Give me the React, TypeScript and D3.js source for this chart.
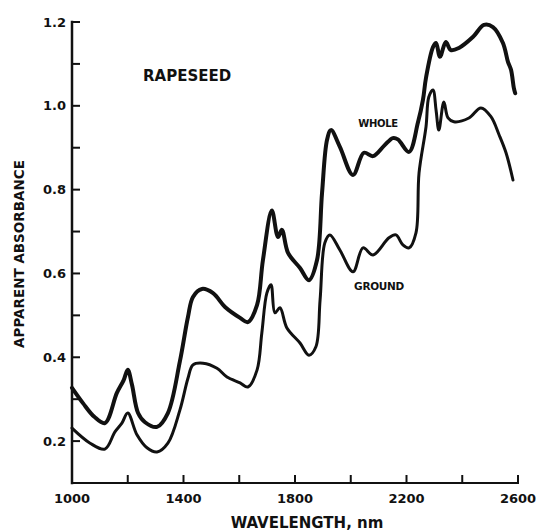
import React from "react";
import * as d3 from "d3";

// wavelengths (nm) and apparent absorbance
const wholeWl = [1000, 1040, 1080, 1118, 1161, 1185, 1200, 1215, 1237, 1262, 1305, 1344, 1387, 1416, 1434, 1466, 1506, 1549, 1603, 1631, 1664, 1685, 1717, 1739, 1753, 1775, 1818, 1850, 1879, 1897, 1915, 1929, 1961, 2008, 2047, 2080, 2120, 2151, 2169, 2209, 2241, 2259, 2270, 2295, 2306, 2320, 2341, 2359, 2388, 2438, 2478, 2510, 2546, 2564, 2575, 2585, 2590];
const wholeAbs = [0.327, 0.29, 0.258, 0.243, 0.315, 0.345, 0.37, 0.335, 0.267, 0.245, 0.234, 0.267, 0.39, 0.496, 0.544, 0.563, 0.553, 0.52, 0.494, 0.484, 0.525, 0.632, 0.75, 0.687, 0.704, 0.649, 0.613, 0.584, 0.632, 0.792, 0.919, 0.942, 0.902, 0.835, 0.888, 0.88, 0.905, 0.923, 0.92, 0.89, 0.96, 1.014, 1.067, 1.14, 1.15, 1.117, 1.152, 1.133, 1.138, 1.164, 1.193, 1.188, 1.15, 1.105, 1.086, 1.043, 1.03];

const groundWl = [1000, 1065, 1118, 1154, 1179, 1200, 1233, 1269, 1305, 1344, 1387, 1416, 1434, 1470, 1520, 1556, 1603, 1631, 1664, 1681, 1699, 1714, 1728, 1746, 1771, 1818, 1850, 1875, 1890, 1907, 1925, 1961, 2008, 2044, 2080, 2137, 2162, 2187, 2209, 2234, 2245, 2270, 2280, 2295, 2306, 2316, 2334, 2349, 2370, 2424, 2467, 2503, 2532, 2557, 2582];
const groundAbs = [0.231, 0.195, 0.181, 0.222, 0.243, 0.267, 0.215, 0.184, 0.174, 0.195, 0.274, 0.35, 0.382, 0.386, 0.374, 0.353, 0.339, 0.329, 0.37, 0.458, 0.553, 0.573, 0.506, 0.518, 0.47, 0.434, 0.405, 0.425, 0.537, 0.673, 0.692, 0.656, 0.604, 0.661, 0.644, 0.685, 0.692, 0.668, 0.661, 0.697, 0.84, 0.95, 1.021, 1.038, 0.99, 0.942, 1.009, 0.971, 0.962, 0.971, 0.995, 0.974, 0.931, 0.888, 0.823];

const xTicks = [1200, 1400, 1600, 1800, 2000, 2200, 2400, 2600];
const xLabels = [1000, 1400, 1800, 2200, 2600];
const yTicks = [0.2, 0.3, 0.4, 0.5, 0.6, 0.7, 0.8, 0.9, 1.0, 1.1, 1.2];
const yLabels = ["0.2", "0.4", "0.6", "0.8", "1.0", "1.2"];

const W = 536;
const H = 532;
const x = d3.scaleLinear().domain([1000, 2600]).range([72, 518]);
const y = d3.scaleLinear().domain([0.1, 1.2]).range([483, 22]);
const font = "'DejaVu Sans', sans-serif";

const line = d3
    .line<[number, number]>()
    .x((d) => x(d[0]))
    .y((d) => y(d[1]))
    .curve(d3.curveCatmullRom.alpha(0.5));

export default function App() {
    const whole = wholeWl.map((w, i) => [w, wholeAbs[i]] as [number, number]);
    const ground = groundWl.map((w, i) => [w, groundAbs[i]] as [number, number]);
    return (
        <svg
            width={W}
            height={H}
            style={{ position: "absolute", left: 0, top: 0, background: "#fff" }}
            fontFamily={font}
            fontWeight="bold"
        >
            {/* axes */}
            <g stroke="#111" fill="none" strokeLinecap="square">
                <line x1={x(1000)} x2={x(1000)} y1={y(1.2)} y2={y(0.1)} strokeWidth={2.5} />
                <line x1={x(1000)} x2={x(2600)} y1={y(0.1)} y2={y(0.1)} strokeWidth={2} />
                {yTicks.map((t) => (
                    <line key={t} x1={x(1000)} x2={x(1000) + 7} y1={y(t)} y2={y(t)} strokeWidth={2} />
                ))}
                {xTicks.map((t) => (
                    <line key={t} x1={x(t)} x2={x(t)} y1={y(0.1)} y2={y(0.1) - 7} strokeWidth={2} />
                ))}
            </g>
            {yLabels.map((t) => (
                <text key={t} x={x(1000) - 6} y={y(+t)} dy="0.36em" textAnchor="end" fontSize={13} fill="#111">
                    {t}
                </text>
            ))}
            {xLabels.map((t) => (
                <text key={t} x={x(t)} y={498} dy="0.36em" textAnchor="middle" fontSize={13} fill="#111">
                    {t}
                </text>
            ))}
            <text x={307} y={523} dy="0.36em" textAnchor="middle" fontSize={15} fill="#111">
                WAVELENGTH, nm
            </text>
            <text
                transform={`translate(19,254) rotate(-90)`}
                dy="0.36em"
                textAnchor="middle"
                fontSize={13.5}
                fill="#111"
            >
                APPARENT ABSORBANCE
            </text>
            <text x={143} y={76} dy="0.36em" fontSize={15} fill="#111">
                RAPESEED
            </text>
            <text x={378} y={123} dy="0.36em" textAnchor="middle" fontSize={10} fill="#111" letterSpacing={-0.3}>
                WHOLE
            </text>
            <text x={379} y={286} dy="0.36em" textAnchor="middle" fontSize={10.5} fill="#111" letterSpacing={-0.3}>
                GROUND
            </text>
            {/* spectra */}
            <path d={line(whole) ?? ""} fill="none" stroke="#111" strokeWidth={4} strokeLinejoin="round" strokeLinecap="round" />
            <path d={line(ground) ?? ""} fill="none" stroke="#111" strokeWidth={3} strokeLinejoin="round" strokeLinecap="round" />
        </svg>
    );
}
